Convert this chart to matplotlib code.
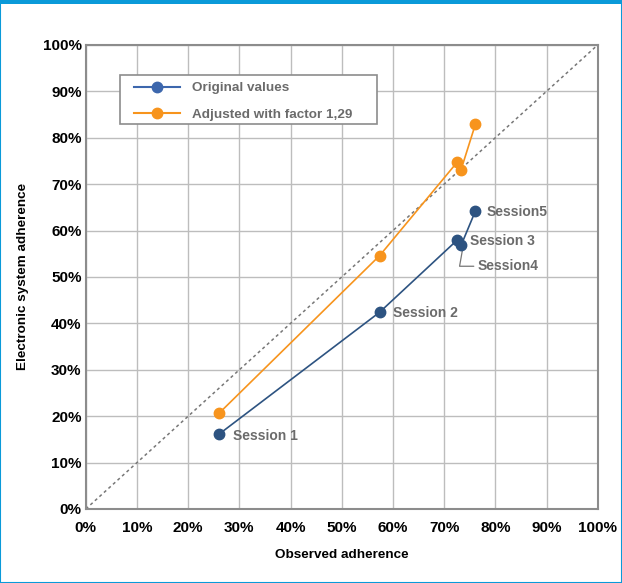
import matplotlib.pyplot as plt
from matplotlib.lines import Line2D
from matplotlib.patches import Rectangle
from matplotlib.ticker import PercentFormatter

plt.rcParams['font.family'] = ['Liberation Sans', 'DejaVu Sans']

# Datos
sessions = ['Session 1', 'Session 2', 'Session 3', 'Session4', 'Session5']
observed = [26.0, 57.4, 72.6, 73.3, 76.1]
original = [16.1, 42.4, 58.0, 56.8, 64.2]
adjusted = [20.6, 54.6, 74.8, 73.1, 82.9]
factor_label = '1,29'

blue = '#2d5381'
orange = '#f7941d'
grey_txt = '#6b6b6b'

fig = plt.figure(figsize=(6.22, 5.83), dpi=100)
ax = fig.add_axes([0.138, 0.127, 0.823, 0.796])

# marco azul de la figura
fig.patches.append(Rectangle((0, 0), 1, 1, transform=fig.transFigure,
                             fill=False, edgecolor='#0a9ad9', linewidth=1.5))
fig.patches.append(Rectangle((0, 0.993), 1, 0.007, transform=fig.transFigure,
                             facecolor='#0a9ad9', edgecolor='none'))

ax.plot([0, 100], [0, 100], linestyle=(0, (2, 2)), color='#777777', linewidth=1.1, zorder=2)
ax.plot(observed, original, color=blue, linewidth=1.2, marker='o', markersize=7.5, zorder=4)
ax.plot(observed, adjusted, color=orange, linewidth=1.2, marker='o', markersize=7.5, zorder=3)

# etiquetas de sesiones
lab_kw = dict(color=grey_txt, fontsize=10, fontweight='bold', va='center')
ax.text(28.8, original[0] - 0.4, sessions[0], **lab_kw)
ax.text(60.1, original[1] - 0.2, sessions[1], **lab_kw)
ax.text(75.0, original[2] - 0.2, sessions[2], **lab_kw)
ax.text(78.2, original[4] - 0.2, sessions[4], **lab_kw)
ax.annotate(sessions[3], xy=(observed[3] + 0.3, original[3] - 0.8),
            xytext=(76.6, 52.3),
            arrowprops=dict(arrowstyle='-', color='#777777', lw=0.9,
                            shrinkA=1, shrinkB=0,
                            connectionstyle='angle,angleA=0,angleB=80,rad=0'),
            **lab_kw)

ax.set_xlim(0, 100)
ax.set_ylim(0, 100)
ax.set_xticks(range(0, 101, 10))
ax.set_yticks(range(0, 101, 10))
ax.xaxis.set_major_formatter(PercentFormatter(decimals=0))
ax.yaxis.set_major_formatter(PercentFormatter(decimals=0))
ax.tick_params(length=0, labelsize=11)
ax.tick_params(axis='x', pad=9)
ax.tick_params(axis='y', pad=3)
for lab in ax.get_xticklabels() + ax.get_yticklabels():
    lab.set_fontweight('bold')
ax.grid(True, color='#bdbdbd', linewidth=1)
ax.set_axisbelow(True)
for s in ax.spines.values():
    s.set_color('#8c8c8c')
    s.set_linewidth(1.5)

ax.set_xlabel('Observed adherence', fontsize=9.7, fontweight='bold', labelpad=10)
ax.set_ylabel('Electronic system adherence', fontsize=9.7, fontweight='bold', labelpad=10)

# caja de la leyenda (dibujada aparte para controlar el margen interior)
ax.add_patch(Rectangle((0.0664, 0.830), 0.502, 0.105, transform=ax.transAxes,
                       facecolor='white', edgecolor='#8c8c8c', linewidth=1.2,
                       zorder=5))
handles = [Line2D([], [], color='#3d67ad', marker='o', markersize=7.5, linewidth=1.5),
           Line2D([], [], color=orange, marker='o', markersize=7.5, linewidth=1.5)]
leg = ax.legend(handles, ['Original values', 'Adjusted with factor ' + factor_label],
                loc='upper left', bbox_to_anchor=(0.095, 0.920),
                borderaxespad=0, borderpad=0, frameon=False,
                handlelength=3.4, handletextpad=0.9, labelspacing=1.05,
                prop={'weight': 'bold', 'size': 9.7})
leg.set_zorder(6)
for t in leg.get_texts():
    t.set_color(grey_txt)

fig.savefig('out.png', dpi=100)
